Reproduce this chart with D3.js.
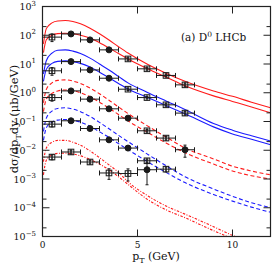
<!DOCTYPE html>
<html>
<head>
<meta charset="utf-8">
<script src="https://cdn.jsdelivr.net/npm/d3@7"></script>
<style>
  body { margin: 0; background: #fff; }
  svg text { font-family: "DejaVu Serif", "Liberation Serif", serif; fill: #111; }
</style>
</head>
<body>
<div id="chart"></div>
<script>
// D0 LHCb cross sections, one rapidity bin per series (already scaled by powers of 10)

const ptCenters = [0.5, 1.5, 2.5, 3.5, 4.5, 5.5, 6.5, 7.5];

const data1 = [86, 111, 69, 31, 15, 6.8, 4.0, 1.88];
const data2 = [5.8, 12.1, 6.2, 3.2, 1.33, 0.68, 0.38, 0.196];
const data3 = [0.68, 1.16, 0.6, 0.276, 0.131, 0.0475, 0.0265, 0.0104];
const data4 = [0.081, 0.106, 0.057, 0.023, 0.0119, 0.0043, 0.0022];
const data5 = [0.0058, 0.0087, 0.0039, 0.00162, 0.00155, 0.0021];

// relative vertical errors
const err1 = [0.3, 0.1, 0.1, 0.1, 0.1, 0.1, 0.1, 0.15];
const err2 = [0.3, 0.1, 0.1, 0.1, 0.1, 0.1, 0.1, 0.15];
const err3 = [0.25, 0.1, 0.1, 0.1, 0.1, 0.1, 0.15, 0.45];
const err4 = [0.2, 0.1, 0.1, 0.15, 0.15, 0.15, 0.2];
const err5 = [0.2, 0.15, 0.15, 0.4, 0.45, 0.7];

// marker kind: c = filled circle, s = open square
const mark1 = ["s", "c", "c", "c", "s", "s", "s", "s"];
const mark2 = ["s", "c", "c", "c", "s", "s", "s", "s"];
const mark3 = ["s", "c", "c", "c", "c", "s", "s", "c"];
const mark4 = ["s", "c", "c", "c", "c", "s", "s"];
const mark5 = ["s", "s", "s", "s", "s", "c"];

// theory band edges
const ptGrid = [0.05, 0.2, 0.5, 0.8, 1.2, 1.6, 2, 2.5, 3, 3.5, 4, 4.5, 5.5, 6.5, 7.5, 9, 10, 11, 12];

const hi1 = [50, 170, 270, 315, 325, 300, 250, 175, 112, 68, 40, 24, 10, 4.8, 2.5, 1.15, 0.75, 0.47, 0.30];
const lo1 = [25, 70, 100, 114, 118, 113, 100, 80, 55, 36, 23, 15, 7.0, 3.5, 1.75, 0.78, 0.50, 0.32, 0.20];
const hi2 = [4.5, 13, 24, 30, 31, 28, 23, 16, 10, 6.2, 3.7, 2.2, 1.05, 0.52, 0.26, 0.085, 0.050, 0.032, 0.021];
const lo2 = [2.5, 6.5, 10.5, 12.3, 12.8, 12, 10.5, 7.8, 5.2, 3.3, 2.1, 1.35, 0.70, 0.36, 0.185, 0.065, 0.037, 0.024, 0.0155];
const hi3 = [0.45, 1.3, 2.2, 2.7, 2.8, 2.55, 2.1, 1.45, 0.92, 0.55, 0.32, 0.19, 0.072, 0.029, 0.012, 0.0050, 0.0028, 0.0019, 0.0014];
const lo3 = [0.22, 0.6, 0.95, 1.15, 1.25, 1.18, 1.0, 0.72, 0.47, 0.29, 0.175, 0.105, 0.043, 0.018, 0.0082, 0.0033, 0.0019, 0.0013, 0.001];
const hi4 = [0.045, 0.13, 0.23, 0.285, 0.3, 0.27, 0.22, 0.15, 0.093, 0.056, 0.033, 0.020, 0.0075, 0.0029, 0.0012, 0.00045, 0.00025, 0.00015, 0.0001];
const lo4 = [0.022, 0.06, 0.095, 0.112, 0.118, 0.11, 0.095, 0.068, 0.044, 0.028, 0.017, 0.0105, 0.0041, 0.0017, 0.00075, 0.00029, 0.00017, 0.000105, 0.00007];
const hi5 = [0.004, 0.012, 0.019, 0.022, 0.022, 0.019, 0.015, 0.0095, 0.0055, 0.0031, 0.0017, 0.0008, 0.00027, 0.000115, 0.00006, 0.000022, 0.000011, 0.0000065, 0.000004];
const lo5 = [0.0014, 0.0045, 0.0068, 0.0078, 0.0079, 0.0074, 0.0064, 0.0048, 0.0033, 0.0021, 0.0012, 0.00065, 0.0002, 0.000085, 0.000045, 0.000016, 0.0000085, 0.000005, 0.000003];

const xTicks = [0, 5, 10];
const yExps = [3, 2, 1, 0, -1, -2, -3, -4, -5];

const series = [
    { pts: data1, err: err1, mark: mark1, hi: hi1, lo: lo1, color: "#ff1a1a", dash: null },
    { pts: data2, err: err2, mark: mark2, hi: hi2, lo: lo2, color: "#1a1aff", dash: null },
    { pts: data3, err: err3, mark: mark3, hi: hi3, lo: lo3, color: "#ff1a1a", dash: "4,2.5" },
    { pts: data4, err: err4, mark: mark4, hi: hi4, lo: lo4, color: "#1a1aff", dash: "4,2.5" },
    { pts: data5, err: err5, mark: mark5, hi: hi5, lo: lo5, color: "#ff1a1a", dash: "2.5,1.5,1,1.5" }
];

const width = 274, height = 269;
const mLeft = 42.5, mRight = 270.5, mTop = 6.5, mBottom = 236.5;

const svg = d3.select("#chart").append("svg")
    .attr("width", width)
    .attr("height", height);

const x = d3.scaleLinear().domain([0, 12]).range([mLeft, mRight]);
const y = d3.scaleLog().domain([1e-5, 1e3]).range([mBottom, mTop]);

svg.append("clipPath").attr("id", "plotclip")
    .append("rect")
    .attr("x", mLeft).attr("y", mTop)
    .attr("width", mRight - mLeft).attr("height", mBottom - mTop);

// theory curves
const line = d3.line()
    .x(d => x(d[0]))
    .y(d => y(d[1]))
    .curve(d3.curveMonotoneX);

const curves = svg.append("g").attr("clip-path", "url(#plotclip)");
series.forEach(s => {
    [s.hi, s.lo].forEach(arr => {
        curves.append("path")
            .attr("d", line(ptGrid.map((p, i) => [p, arr[i]])))
            .attr("fill", "none")
            .attr("stroke", s.color)
            .attr("stroke-width", 1.1)
            .attr("stroke-dasharray", s.dash);
    });
});

// data points with error bars
const pts = svg.append("g").attr("clip-path", "url(#plotclip)");
series.forEach(s => {
    s.pts.forEach((v, i) => {
        const cx = x(ptCenters[i]), cy = y(v);
        const g = pts.append("g").attr("stroke", "#1a1a1a").attr("stroke-width", 1);
        // horizontal bar with end caps
        g.append("line").attr("x1", x(ptCenters[i] - 0.5)).attr("x2", x(ptCenters[i] + 0.5))
            .attr("y1", cy).attr("y2", cy);
        [ptCenters[i] - 0.5, ptCenters[i] + 0.5].forEach(e => {
            g.append("line").attr("x1", x(e)).attr("x2", x(e))
                .attr("y1", cy - 2.5).attr("y2", cy + 2.5);
        });
        // vertical bar
        const y1 = y(v * (1 + s.err[i])), y2 = y(v * (1 - s.err[i]));
        g.append("line").attr("x1", cx).attr("x2", cx).attr("y1", y1).attr("y2", y2);
        g.append("line").attr("x1", cx - 1.5).attr("x2", cx + 1.5).attr("y1", y1).attr("y2", y1);
        g.append("line").attr("x1", cx - 1.5).attr("x2", cx + 1.5).attr("y1", y2).attr("y2", y2);
        if (s.mark[i] === "c") {
            g.append("circle").attr("cx", cx).attr("cy", cy).attr("r", 3)
                .attr("fill", "#1a1a1a");
        } else {
            g.append("rect").attr("x", cx - 2.8).attr("y", cy - 2.8)
                .attr("width", 5.6).attr("height", 5.6)
                .attr("fill", "none");
            g.append("line").attr("x1", cx).attr("x2", cx).attr("y1", cy - 2.8).attr("y2", cy + 2.8);
        }
    });
});

// frame
svg.append("rect")
    .attr("x", mLeft).attr("y", mTop)
    .attr("width", mRight - mLeft).attr("height", mBottom - mTop)
    .attr("fill", "none").attr("stroke", "#222").attr("stroke-width", 1.2);

const ticks = svg.append("g").attr("stroke", "#222").attr("stroke-width", 1);

xTicks.forEach(t => {
    ticks.append("line").attr("x1", x(t)).attr("x2", x(t)).attr("y1", mBottom).attr("y2", mBottom - 7);
    ticks.append("line").attr("x1", x(t)).attr("x2", x(t)).attr("y1", mTop).attr("y2", mTop + 7);
    svg.append("text")
        .attr("x", x(t)).attr("y", mBottom + 11)
        .attr("text-anchor", "middle")
        .style("font-size", "9px")
        .text(t);
});

yExps.forEach(n => {
    const yy = y(Math.pow(10, n));
    ticks.append("line").attr("x1", mLeft).attr("x2", mLeft + 7).attr("y1", yy).attr("y2", yy);
    ticks.append("line").attr("x1", mRight).attr("x2", mRight - 7).attr("y1", yy).attr("y2", yy);
    if (n < 3) {
        const ym = y(2 * Math.pow(10, n));
        ticks.append("line").attr("x1", mLeft).attr("x2", mLeft + 4).attr("y1", ym).attr("y2", ym);
        ticks.append("line").attr("x1", mRight).attr("x2", mRight - 4).attr("y1", ym).attr("y2", ym);
    }
    const lab = svg.append("text")
        .attr("x", 36).attr("y", yy + 3.5)
        .attr("text-anchor", "end")
        .style("font-size", "9.5px");
    lab.append("tspan").text("10");
    lab.append("tspan").attr("dy", -4.5).style("font-size", "7px").text(n < 0 ? "\u2212" + (-n) : n);
});

// labels
const xl = svg.append("text")
    .attr("x", 156).attr("y", 260)
    .attr("text-anchor", "middle")
    .style("font-size", "11px");
xl.append("tspan").text("p");
xl.append("tspan").attr("dy", 2.5).style("font-size", "8px").text("T");
xl.append("tspan").attr("dy", -2.5).text(" (GeV)");

const yl = svg.append("text")
    .attr("transform", "translate(18,119) rotate(-90)")
    .attr("text-anchor", "middle")
    .style("font-size", "11.5px");
yl.append("tspan").text("d\u03c3/dp");
yl.append("tspan").attr("dy", 2.5).style("font-size", "8px").text("T");
yl.append("tspan").attr("dy", -2.5).text("dy (\u03bcb/GeV)");

const tl = svg.append("text")
    .attr("x", 181).attr("y", 41)
    .style("font-size", "10.5px");
tl.append("tspan").text("(a) D");
tl.append("tspan").attr("dy", -4.5).style("font-size", "7.5px").text("0");
tl.append("tspan").attr("dy", 4.5).text(" LHCb");
</script>
</body>
</html>
